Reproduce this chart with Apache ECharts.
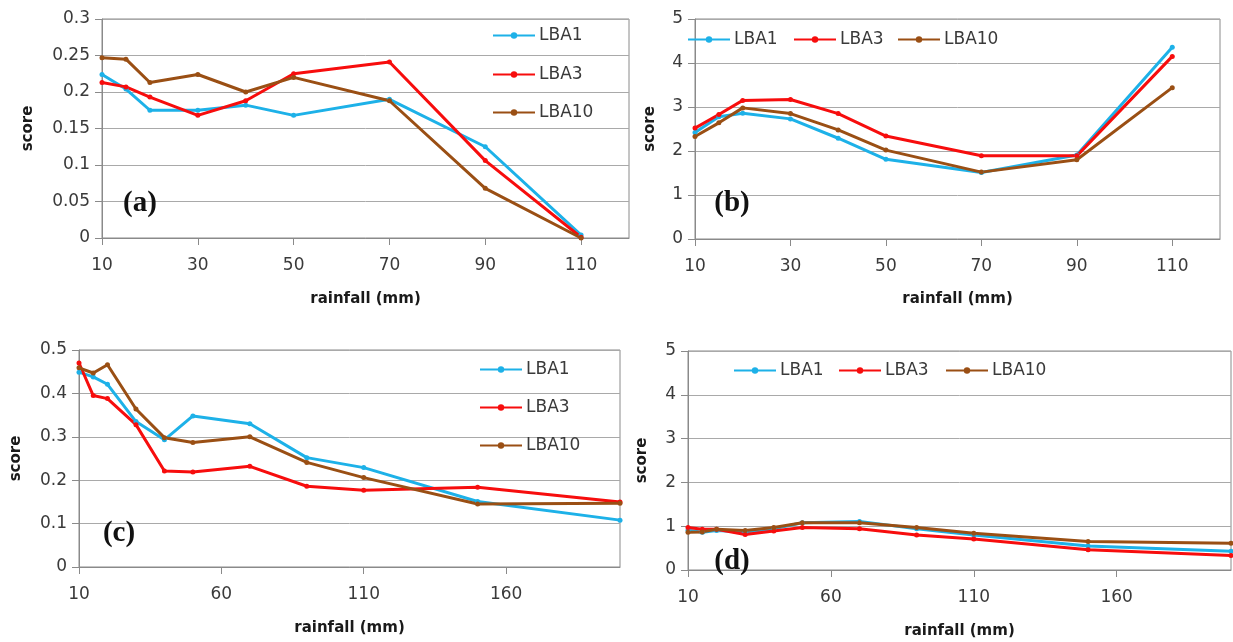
<!DOCTYPE html>
<html>
<head>
<meta charset="utf-8">
<script src="https://cdn.jsdelivr.net/npm/echarts@6/dist/echarts.min.js"></script>
<style>
  html, body { margin: 0; padding: 0; background: #fff; }
  #chart { width: 1233px; height: 642px; }
</style>
</head>
<body>
<div id="chart"></div>
<script>
// ---------- data ----------
const seriesNames = ['LBA1', 'LBA3', 'LBA10'];

// panel (a)
const xA = [10, 15, 20, 30, 40, 50, 70, 90, 110];
const aLBA1  = [0.224, 0.204, 0.175, 0.175, 0.182, 0.168, 0.190, 0.125, 0.004];
const aLBA3  = [0.213, 0.207, 0.193, 0.168, 0.188, 0.225, 0.241, 0.106, 0.001];
const aLBA10 = [0.247, 0.245, 0.213, 0.224, 0.200, 0.220, 0.188, 0.068, 0.000];

// panel (b)
const xB = [10, 15, 20, 30, 40, 50, 70, 90, 110];
const bLBA1  = [2.42, 2.78, 2.86, 2.73, 2.29, 1.81, 1.51, 1.91, 4.36];
const bLBA3  = [2.52, 2.83, 3.15, 3.17, 2.85, 2.34, 1.89, 1.89, 4.15];
const bLBA10 = [2.33, 2.64, 2.98, 2.85, 2.48, 2.02, 1.52, 1.80, 3.44];

// panel (c)
const xC = [10, 15, 20, 30, 40, 50, 70, 90, 110, 150, 200];
const cLBA1  = [0.449, 0.438, 0.421, 0.335, 0.293, 0.348, 0.330, 0.252, 0.229, 0.151, 0.108];
const cLBA3  = [0.470, 0.395, 0.388, 0.328, 0.221, 0.219, 0.232, 0.186, 0.177, 0.184, 0.150];
const cLBA10 = [0.459, 0.447, 0.466, 0.364, 0.298, 0.287, 0.300, 0.241, 0.206, 0.145, 0.147];

// panel (d)
const xD = [10, 15, 20, 30, 40, 50, 70, 90, 110, 150, 200];
const dLBA1  = [0.91, 0.86, 0.90, 0.87, 0.94, 1.08, 1.11, 0.94, 0.80, 0.55, 0.43];
const dLBA3  = [0.97, 0.93, 0.93, 0.81, 0.89, 0.97, 0.94, 0.80, 0.71, 0.46, 0.33];
const dLBA10 = [0.86, 0.87, 0.93, 0.90, 0.97, 1.08, 1.08, 0.97, 0.84, 0.65, 0.61];

// tick labels
const xTicksAB = [10, 30, 50, 70, 90, 110];
const xTicksCD = [10, 60, 110, 160];
const panelLabels = ['(a)', '(b)', '(c)', '(d)'];
const xName = 'rainfall (mm)';
const yName = 'score';

// ---------- styling ----------
const colors = { LBA1: '#1DB1E8', LBA3: '#F70D0D', LBA10: '#9A4F14' };
const FONT = '"DejaVu Sans", sans-serif';
const axisGray = '#8a8a8a';
const gridGray = '#a9a9a9';
const labelColor = '#3a3a3a';

const panels = [
  { x: xA, s: [aLBA1, aLBA3, aLBA10], xmin: 10, xmax: 120, ticks: xTicksAB, ymax: 0.3, yint: 0.05,
    grid: { left: 102, top: 19, width: 527, height: 219 }, yGap: 66, xGap: 54 },
  { x: xB, s: [bLBA1, bLBA3, bLBA10], xmin: 10, xmax: 120, ticks: xTicksAB, ymax: 5, yint: 1,
    grid: { left: 695, top: 19, width: 525, height: 220 }, yGap: 37, xGap: 53 },
  { x: xC, s: [cLBA1, cLBA3, cLBA10], xmin: 10, xmax: 200, ticks: xTicksCD, ymax: 0.5, yint: 0.1,
    grid: { left: 79, top: 350, width: 541, height: 217 }, yGap: 55, xGap: 54 },
  { x: xD, s: [dLBA1, dLBA3, dLBA10], xmin: 10, xmax: 200, ticks: xTicksCD, ymax: 5, yint: 1,
    grid: { left: 688, top: 351, width: 543, height: 219 }, yGap: 38, xGap: 54 }
];

const grids = [], xAxes = [], yAxes = [], series = [];
panels.forEach((p, i) => {
  grids.push(Object.assign({ show: true, borderColor: axisGray, borderWidth: 1, backgroundColor: 'transparent' }, p.grid));
  xAxes.push({
    type: 'value', gridIndex: i, min: p.xmin, max: p.xmax,
    name: xName, nameLocation: 'middle', nameGap: p.xGap,
    nameTextStyle: { fontFamily: FONT, fontWeight: 'bold', fontSize: 15, color: '#1a1a1a' },
    axisLine: { show: true, lineStyle: { color: axisGray, width: 1 } },
    axisTick: { show: true, length: 7, customValues: p.ticks, lineStyle: { color: axisGray } },
    axisLabel: { customValues: p.ticks, margin: 19, fontFamily: FONT, fontSize: 17, color: labelColor },
    splitLine: { show: false }
  });
  yAxes.push({
    type: 'value', gridIndex: i, min: 0, max: p.ymax, interval: p.yint,
    name: yName, nameLocation: 'middle', nameGap: p.yGap,
    nameTextStyle: { fontFamily: FONT, fontWeight: 'bold', fontSize: 15, color: '#1a1a1a' },
    axisLine: { show: true, lineStyle: { color: axisGray, width: 1 } },
    axisTick: { show: true, length: 7, lineStyle: { color: axisGray } },
    axisLabel: { margin: 12, fontFamily: FONT, fontSize: 17, color: labelColor },
    splitLine: { show: true, lineStyle: { color: gridGray, width: 1 } }
  });
  seriesNames.forEach((n, k) => {
    series.push({
      name: n, type: 'line', xAxisIndex: i, yAxisIndex: i,
      data: p.x.map((xv, j) => [xv, p.s[k][j]]),
      symbol: 'circle', symbolSize: 5, showSymbol: true,
      lineStyle: { color: colors[n], width: 3 },
      itemStyle: { color: colors[n] },
      emphasis: { disabled: true },
      animation: false
    });
  });
});

// legends: one component per entry so each sits where the reference puts it
const legendPos = [
  // panel a (vertical)
  { n: 'LBA1', left: 492, cy: 37 }, { n: 'LBA3', left: 492, cy: 76 }, { n: 'LBA10', left: 492, cy: 114 },
  // panel b (horizontal)
  { n: 'LBA1', left: 687, cy: 41 }, { n: 'LBA3', left: 793, cy: 41 }, { n: 'LBA10', left: 897, cy: 41 },
  // panel c (vertical)
  { n: 'LBA1', left: 479, cy: 371 }, { n: 'LBA3', left: 479, cy: 409 }, { n: 'LBA10', left: 479, cy: 447 },
  // panel d (horizontal)
  { n: 'LBA1', left: 733, cy: 372 }, { n: 'LBA3', left: 838, cy: 372 }, { n: 'LBA10', left: 945, cy: 372 }
];
const legends = legendPos.map(l => ({
  data: [l.n], left: l.left, top: l.cy - 10, padding: 0, orient: 'horizontal',
  itemWidth: 42, itemHeight: 8, itemGap: 0, selectedMode: false,
  textStyle: { fontFamily: FONT, fontSize: 17, color: labelColor, padding: [0, 0, 0, -1] }
}));

const labelPos = [[140, 204], [732, 204], [119, 534], [732, 562]];
const graphics = panelLabels.map((t, i) => ({
  type: 'text', x: labelPos[i][0], y: labelPos[i][1], z: 10,
  style: { text: t, font: 'bold 29px "Liberation Serif", serif', fill: '#111', align: 'center', verticalAlign: 'middle' }
}));

const chart = echarts.init(document.getElementById('chart'), null, { renderer: 'canvas' });
chart.setOption({
  animation: false,
  backgroundColor: '#ffffff',
  grid: grids, xAxis: xAxes, yAxis: yAxes, series: series,
  legend: legends,
  graphic: graphics
});
</script>
</body>
</html>
